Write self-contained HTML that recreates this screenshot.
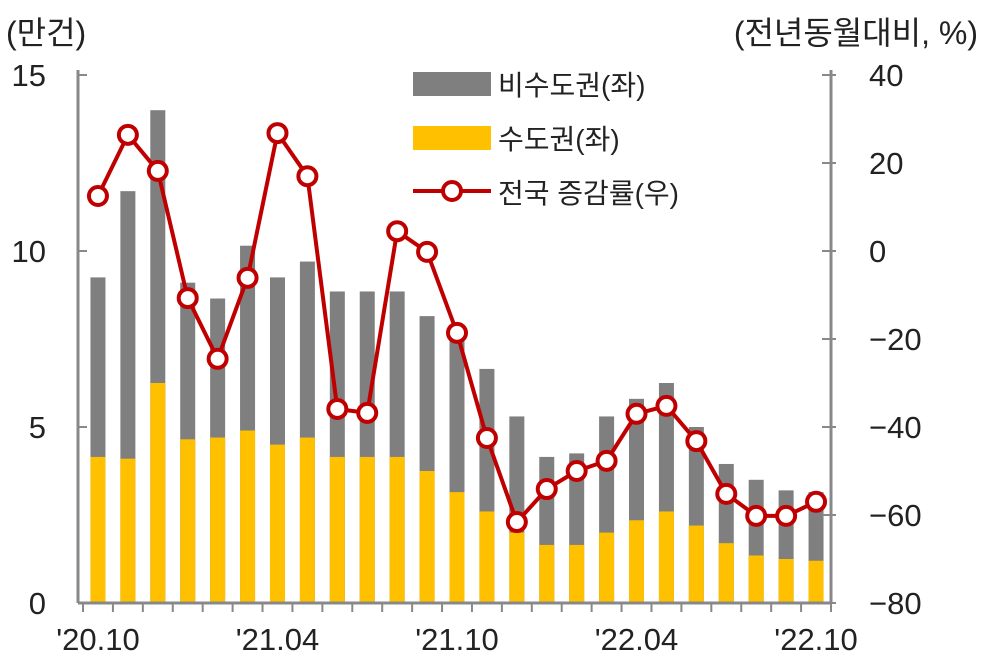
<!DOCTYPE html>
<html><head><meta charset="utf-8"><style>
body{margin:0;background:#fff;}
svg text{font-family:"Liberation Sans","Noto Sans CJK KR",sans-serif;fill:#222;}
</style></head><body>
<svg id="c" width="984" height="667" xmlns="http://www.w3.org/2000/svg">
<text x="6" y="44" font-size="32">(만건)</text>
<text x="978" y="44" font-size="32" text-anchor="end">(전년동월대비, %)</text>
<g id="bars"></g><g id="line"></g><g id="axes"></g>
<g>
<rect x="413" y="72" width="78" height="24" fill="#7f7f7f"/>
<text x="498" y="95" font-size="28">비수도권(좌)</text>
<rect x="413" y="126" width="78" height="24" fill="#ffc000"/>
<text x="498" y="149" font-size="28">수도권(좌)</text>
<line x1="413" y1="191" x2="491" y2="191" stroke="#c00000" stroke-width="4"/>
<circle cx="452" cy="191" r="9" fill="#fff" stroke="#c00000" stroke-width="4"/>
<text x="498" y="203" font-size="28">전국 증감률(우)</text>
</g>
</svg>
<script>
const categories=["20.10","20.11","20.12","21.01","21.02","21.03","21.04","21.05","21.06","21.07","21.08","21.09","21.10","21.11","21.12","22.01","22.02","22.03","22.04","22.05","22.06","22.07","22.08","22.09","22.10"];
const totalVals=[9.25,11.7,14.0,9.1,8.65,10.15,9.25,9.7,8.85,8.85,8.85,8.15,7.5,6.65,5.3,4.15,4.25,5.3,5.8,6.25,5.0,3.95,3.5,3.2,3.15];
const capitalVals=[4.15,4.1,6.25,4.65,4.7,4.9,4.5,4.7,4.15,4.15,4.15,3.75,3.15,2.6,2.0,1.65,1.65,2.0,2.35,2.6,2.2,1.7,1.35,1.25,1.2];
const growthVals=[12.5,26.4,18.2,-10.7,-24.5,-6.1,26.8,17,-35.9,-36.8,4.5,-0.2,-18.6,-42.5,-61.6,-54.1,-50,-47.7,-37,-35.2,-43.2,-55.2,-60.2,-60.2,-57];
const leftTicks=[0,5,10,15];
const rightTicks=[-80,-60,-40,-20,0,20,40];
const xLabels=[[0,"'20.10"],[6,"'21.04"],[12,"'21.10"],[18,"'22.04"],[24,"'22.10"]];
const NS="http://www.w3.org/2000/svg";
const AX0=78,X0=83,X1=831,Y0=603,Y1=75;
const yL=v=>Y0-(v/15)*(Y0-Y1);
const yR=v=>Y0-((v+80)/120)*(Y0-Y1);
const step=(X1-X0)/categories.length;
const xC=i=>X0+step*(i+0.5);
function mk(t,a,p){const e=document.createElementNS(NS,t);for(const k in a)e.setAttribute(k,a[k]);p.appendChild(e);return e;}
const gb=document.getElementById('bars'),gl=document.getElementById('line'),ga=document.getElementById('axes');
const bw=15;
categories.forEach((c,i)=>{
 const r1=mk('rect',{x:xC(i)-bw/2,y:yL(totalVals[i]),width:bw,height:yL(0)-yL(totalVals[i]),fill:'#7f7f7f'},gb);
 
 
 const r2=mk('rect',{x:xC(i)-bw/2,y:yL(capitalVals[i]),width:bw,height:yL(0)-yL(capitalVals[i]),fill:'#ffc000'},gb);
 
 
});
const pts=growthVals.map((v,i)=>xC(i)+','+yR(v)).join(' ');
const pl=mk('polyline',{points:pts,fill:'none',stroke:'#c00000','stroke-width':4,'stroke-linejoin':'round'},gl);


growthVals.forEach((v,i)=>{
 const m=mk('circle',{cx:xC(i),cy:yR(v),r:9,fill:'#fff',stroke:'#c00000','stroke-width':4},gl);
 
 
});
const ax=mk('line',{x1:AX0,y1:Y1-5,x2:AX0,y2:Y0,stroke:'#888','stroke-width':3},ga);


const ar=mk('line',{x1:X1,y1:Y1-5,x2:X1,y2:Y0,stroke:'#888','stroke-width':3},ga);


const xb=mk('line',{x1:AX0,y1:Y0,x2:X1,y2:Y0,stroke:'#888','stroke-width':3},ga);


for(let i=0;i<=categories.length;i++){
 const t=mk('line',{x1:X0+step*i,y1:Y0,x2:X0+step*i,y2:Y0+9,stroke:'#888','stroke-width':2},ga);
 
 
}
leftTicks.forEach(v=>{
 const t=mk('line',{x1:AX0,y1:yL(v),x2:AX0+9,y2:yL(v),stroke:'#888','stroke-width':2},ga);
 
 
 const tx=mk('text',{x:AX0-32,y:yL(v)+11,'font-size':31,'text-anchor':'end'},ga);
 tx.textContent=v;
 
 
});
rightTicks.forEach(v=>{
 const t=mk('line',{x1:X1-9,y1:yR(v),x2:X1+5,y2:yR(v),stroke:'#888','stroke-width':2},ga);
 
 
 const tx=mk('text',{x:X1+38,y:yR(v)+11,'font-size':31},ga);
 tx.textContent=v<0?'\u2212'+(-v):String(v);
 
 
});
xLabels.forEach(([i,l])=>{
 const tx=mk('text',{x:xC(i),y:650,'font-size':31,'text-anchor':'middle'},ga);
 tx.textContent=l;
 
 
});
</script>
</body></html>
